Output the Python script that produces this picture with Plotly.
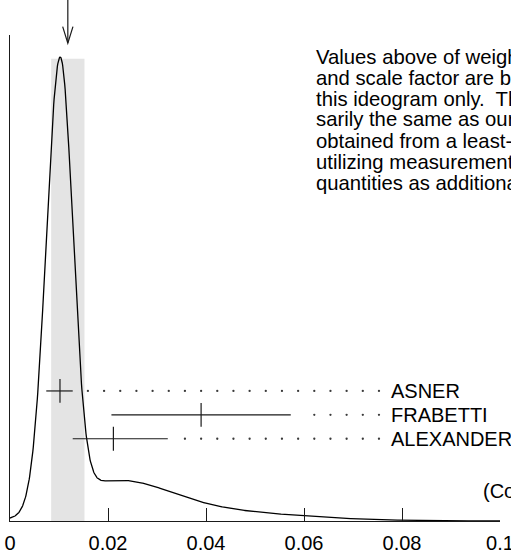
import numpy as np
import plotly.graph_objects as go

# Measurements (value, +error, -error), listed bottom row first
names = ["ALEXANDER", "FRABETTI", "ASNER"]
values = [0.0211, 0.0390, 0.0102]
err_plus = [0.0111, 0.0183, 0.0026]
err_minus = [0.0083, 0.0183, 0.0028]

# Weighted average and its (scaled) error
avg_value = 0.0118
avg_error = 0.0034
conf_level = 0.165

tick_vals = [0, 0.02, 0.04, 0.06, 0.08, 0.1]
tick_text = ["0", "0.02", "0.04", "0.06", "0.08", "0.1"]

note_lines = [
    "Values above of weighted average, error,",
    "and scale factor are based upon the data in",
    "this ideogram only.  They are not neces-",
    "sarily the same as our `best' values,",
    "obtained from a least-squares constrained fit",
    "utilizing measurements of other (related)",
    "quantities as additional information.",
]

FONT = "Liberation Sans, Arial, Helvetica, sans-serif"
INK = "#1a1a1a"

# Ideogram: each measurement contributes a Gaussian of area proportional
# to 1/sigma, using the error on the relevant side of the central value.
xs = np.linspace(0, 0.1, 1201)
curve = np.zeros_like(xs)
for v, ep, em in zip(values, err_plus, err_minus):
    s_avg = 0.5 * (ep + em)
    s = np.where(xs >= v, ep, em)
    curve += np.exp(-0.5 * ((xs - v) / s) ** 2) / s_avg ** 2
peak = curve.max()
y_top = peak / 0.9547

fig = go.Figure()

# shaded band: weighted average +/- error
fig.add_shape(type="rect", xref="x", yref="y",
              x0=avg_value - avg_error, x1=avg_value + avg_error,
              y0=0, y1=peak * 0.996,
              fillcolor="#e4e4e4", line_width=0, layer="below")

fig.add_trace(go.Scatter(x=xs, y=curve, mode="lines",
                         line=dict(color="black", width=1.3),
                         hoverinfo="skip", showlegend=False))

# dotted leaders from each error bar to its label
dot_step = 0.0033
dot_end = 0.0753
grid = [dot_end - dot_step * k for k in range(19)]
for i, (v, ep) in enumerate(zip(values, err_plus)):
    dx = [g for g in grid if g > v + ep + 0.0025]
    fig.add_trace(go.Scatter(x=dx, y=[i] * len(dx), yaxis="y2", mode="markers",
                             marker=dict(size=2.3, color="#3a3a3a"),
                             hoverinfo="skip", showlegend=False))

# measurements with horizontal error bars and a centre tick
fig.add_trace(go.Scatter(
    x=values, y=list(range(len(names))), yaxis="y2", mode="markers",
    marker=dict(symbol="line-ns", size=17, line=dict(color=INK, width=1.2)),
    error_x=dict(type="data", symmetric=False, array=err_plus,
                 arrayminus=err_minus, width=0, thickness=1.2, color=INK),
    hoverinfo="skip", showlegend=False))

for i, n in enumerate(names):
    fig.add_annotation(x=0.0773, y=i, xref="x", yref="y2", text=n,
                       showarrow=False, xanchor="left", yanchor="middle",
                       font=dict(family=FONT, size=20, color="black"))

# note text block, one annotation per line for tight leading
for j, line in enumerate(note_lines):
    fig.add_annotation(x=0.0621, y=(521 - 56.5 - 21 * j) / 486,
                       xref="x", yref="paper", text=line, showarrow=False,
                       xanchor="left", yanchor="middle",
                       font=dict(family=FONT, size=20.3, color="black"))

fig.add_annotation(x=0.0962, y=(521 - 491) / 486, xref="x", yref="paper",
                   text=f"(Confidence Level = {conf_level:.3f})",
                   showarrow=False, xanchor="left", yanchor="middle",
                   font=dict(family=FONT, size=20, color="black"))

# arrow marking the weighted average
hw = 0.00105
fig.add_shape(type="line", xref="x", yref="paper",
              x0=avg_value, x1=avg_value, y0=1.072, y1=0.984,
              line=dict(color=INK, width=1.2))
fig.add_shape(type="path", xref="x", yref="paper",
              path=f"M {avg_value - hw},1.0171 L {avg_value},0.983 L {avg_value + hw},1.0171",
              line=dict(color=INK, width=1.2))

fig.update_layout(
    width=511, height=554,
    margin=dict(l=10, r=11, t=35, b=33),
    paper_bgcolor="white", plot_bgcolor="white",
    font=dict(family=FONT, size=20, color="black"),
    xaxis=dict(range=[0, 0.1], tickvals=tick_vals, ticktext=tick_text,
               ticks="inside", ticklen=13, tickwidth=1.2, tickcolor=INK,
               ticklabelstandoff=4, ticklabeloverflow="allow", automargin=False,
               showline=True, linecolor=INK, linewidth=1.3,
               showgrid=False, zeroline=False, fixedrange=True,
               tickfont=dict(family=FONT, size=20, color="black")),
    yaxis=dict(range=[0, y_top], showline=True, linecolor=INK, linewidth=1.3,
               automargin=False,
               showticklabels=False, ticks="", showgrid=False, zeroline=False),
    yaxis2=dict(range=[-3.44, 16.89], overlaying="y", visible=False),
)

fig.write_html("out.html")
